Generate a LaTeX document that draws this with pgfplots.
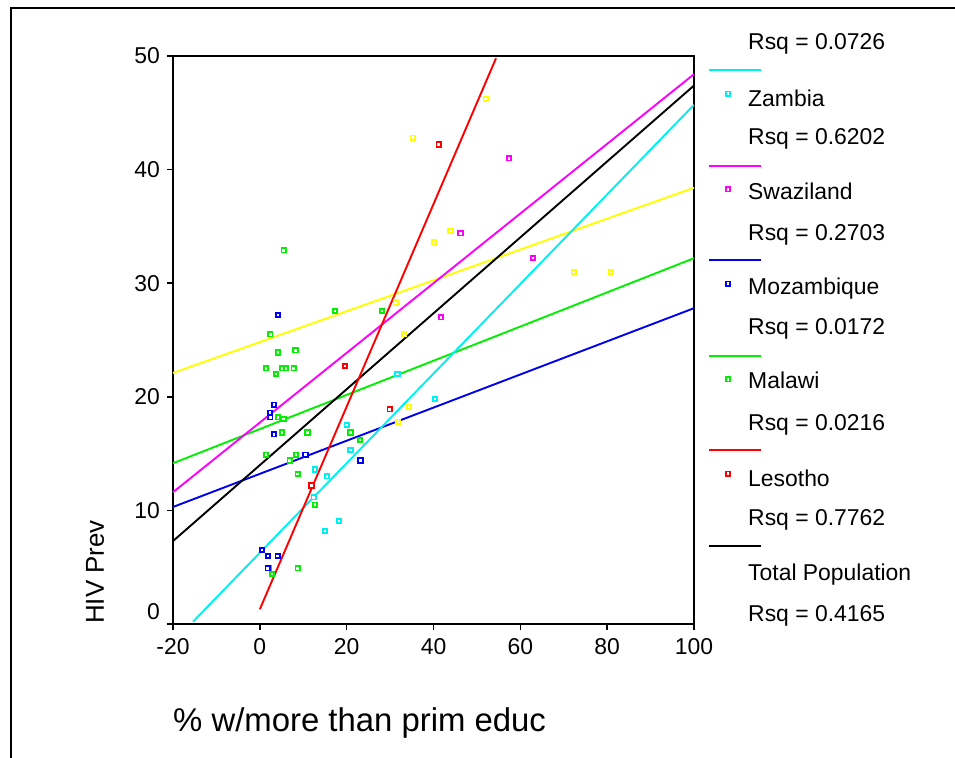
\documentclass[border=0pt]{standalone}
\usepackage{pgfplots}
\pgfplotsset{compat=1.18}
\usepackage{fontspec}
\setmainfont{Liberation Sans}
\definecolor{spyellow}{RGB}{255,255,0}
\definecolor{spcyan}{RGB}{0,240,240}
\definecolor{spmagenta}{RGB}{255,0,255}
\definecolor{spblue}{RGB}{0,0,240}
\definecolor{spgreen}{RGB}{0,240,0}
\definecolor{spred}{RGB}{255,0,0}
\pgfplotsset{
  fitline/.style={no marks, line width=1.9bp, forget plot},
  pts/.style={only marks, mark=square*, mark size=2.2bp, mark options={fill=white, line width=1.8bp}, forget plot},
}
\begin{document}
\begin{tikzpicture}[x=1bp,y=1bp]
\useasboundingbox (0,0) rectangle (955,758);
\draw[line width=1.5bp] (11,0) -- (11,750) -- (955,750);
\begin{axis}[
  at={(173bp,134bp)}, anchor=south west,
  scale only axis, width=521bp, height=568bp,
  xmin=-20, xmax=100, ymin=0, ymax=50,
  clip=false,
  xtick={-20,0,20,40,60,80,100}, xticklabels={-20,0,20,40,60,80,100},
  ytick={10,20,30,40,50}, yticklabels={10,20,30,40,50},
  extra y ticks={0}, extra y tick labels={0},
  extra y tick style={yticklabel style={yshift=12bp}},
  tick align=outside, tick pos=left,
  major tick length=6bp,
  every tick/.style={black, line width=1.5bp},
  axis line style={line width=2bp},
  tick label style={font=\fontsize{23}{27}\selectfont, inner sep=0pt},
  xticklabel style={yshift=-8bp},
  yticklabel style={xshift=-7bp},
  xlabel={\% w/more than prim educ},
  ylabel={HIV Prev},
  every axis x label/.style={at={(axis description cs:0,-0.174)}, anchor=west, font=\fontsize{33}{38}\selectfont, inner sep=0pt},
  every axis y label/.style={at={(axis description cs:-0.1497,0)}, anchor=west, rotate=90, font=\fontsize{26}{31}\selectfont, inner sep=0pt},
]
% regression lines
\addplot[fitline, spyellow] coordinates {(-20,22.1) (100,38.4)};
\addplot[fitline, spgreen] coordinates {(-20,14.15) (100,32.2)};
\addplot[fitline, spblue] coordinates {(-20,10.3) (100,27.8)};
\addplot[fitline, spmagenta] coordinates {(-20,11.6) (100,48.4)};
\addplot[fitline, spcyan] coordinates {(-15.4,0.2) (100,45.7)};
\addplot[fitline, black] coordinates {(-20,7.3) (100,47.4)};
\addplot[fitline, spred] coordinates {(0,1.3) (54.4,49.8)};
% points
\addplot[pts, spyellow] coordinates {(52.0,46.2) (35.2,42.8) (40.1,33.6) (43.9,34.6) (31.3,28.3) (33.2,25.5) (72.3,31.0) (80.9,31.0) (34.4,19.1) (31.8,17.8)};
\addplot[pts, spcyan] coordinates {(31.7,22.0) (40.3,19.8) (20.0,17.5) (20.9,15.3) (12.7,13.6) (15.5,13.0) (12.4,11.15) (18.2,9.07) (15.0,8.2)};
\addplot[pts, spmagenta] coordinates {(57.4,41.0) (46.2,34.4) (62.9,32.2) (41.7,27.0)};
\addplot[pts, spgreen] coordinates {(5.5,32.9) (17.3,27.55) (28.1,27.55) (2.4,25.5) (8.2,24.1) (4.15,23.9) (1.45,22.5) (5.1,22.5) (6.0,22.5) (7.8,22.5) (3.75,22.0) (4.2,18.2) (5.5,18.05) (5.1,16.85) (11.0,16.85) (20.9,16.85) (23.1,16.2) (1.45,14.9) (8.3,14.9) (6.9,14.4) (8.7,13.2) (12.7,10.5) (2.2,4.9) (2.8,4.4) (8.7,4.9)};
\addplot[pts, spblue] coordinates {(4.15,27.2) (3.3,19.3) (2.3,18.6) (2.4,18.2) (3.3,16.7) (10.5,14.9) (23.2,14.4) (0.5,6.5) (1.9,6.0) (4.1,6.0) (1.8,4.9)};
\addplot[pts, spred] coordinates {(41.2,42.2) (19.6,22.7) (29.9,18.9) (11.9,12.2)};
% legend keys (drawn outside the plot area, right of the axis)
\addplot[fitline, spcyan]    coordinates {(103.45,48.79) (115.43,48.79)};
\addplot[fitline, spmagenta] coordinates {(103.45,40.34) (115.43,40.34)};
\addplot[fitline, spblue]    coordinates {(103.45,32.07) (115.43,32.07)};
\addplot[fitline, spgreen]   coordinates {(103.45,23.62) (115.43,23.62)};
\addplot[fitline, spred]     coordinates {(103.45,15.29) (115.43,15.29)};
\addplot[fitline, black]     coordinates {(103.45,6.89) (115.43,6.89)};
\addplot[pts, spcyan]    coordinates {(107.83,46.68)};
\addplot[pts, spmagenta] coordinates {(107.83,38.27)};
\addplot[pts, spblue]    coordinates {(107.83,29.96)};
\addplot[pts, spgreen]   coordinates {(107.83,21.54)};
\addplot[pts, spred]     coordinates {(107.83,13.23)};
\end{axis}
\begin{scope}[every node/.style={anchor=west, inner sep=0pt, text height=16.5bp, text depth=0bp, font=\fontsize{23}{27}\selectfont}]
\node at (748,716.8) {Rsq = 0.0726};
\node at (748,660.0) {Zambia};
\node at (748,621.3) {Rsq = 0.6202};
\node at (748,566.3) {Swaziland};
\node at (748,525.7) {Rsq = 0.2703};
\node at (748,471.3) {Mozambique};
\node at (748,431.3) {Rsq = 0.0172};
\node at (748,377.5) {Malawi};
\node at (748,335.3) {Rsq = 0.0216};
\node at (748,280.0) {Lesotho};
\node at (748,240.3) {Rsq = 0.7762};
\node at (748,186.0) {Total Population};
\node at (748,144.7) {Rsq = 0.4165};
\end{scope}
\end{tikzpicture}
\end{document}
